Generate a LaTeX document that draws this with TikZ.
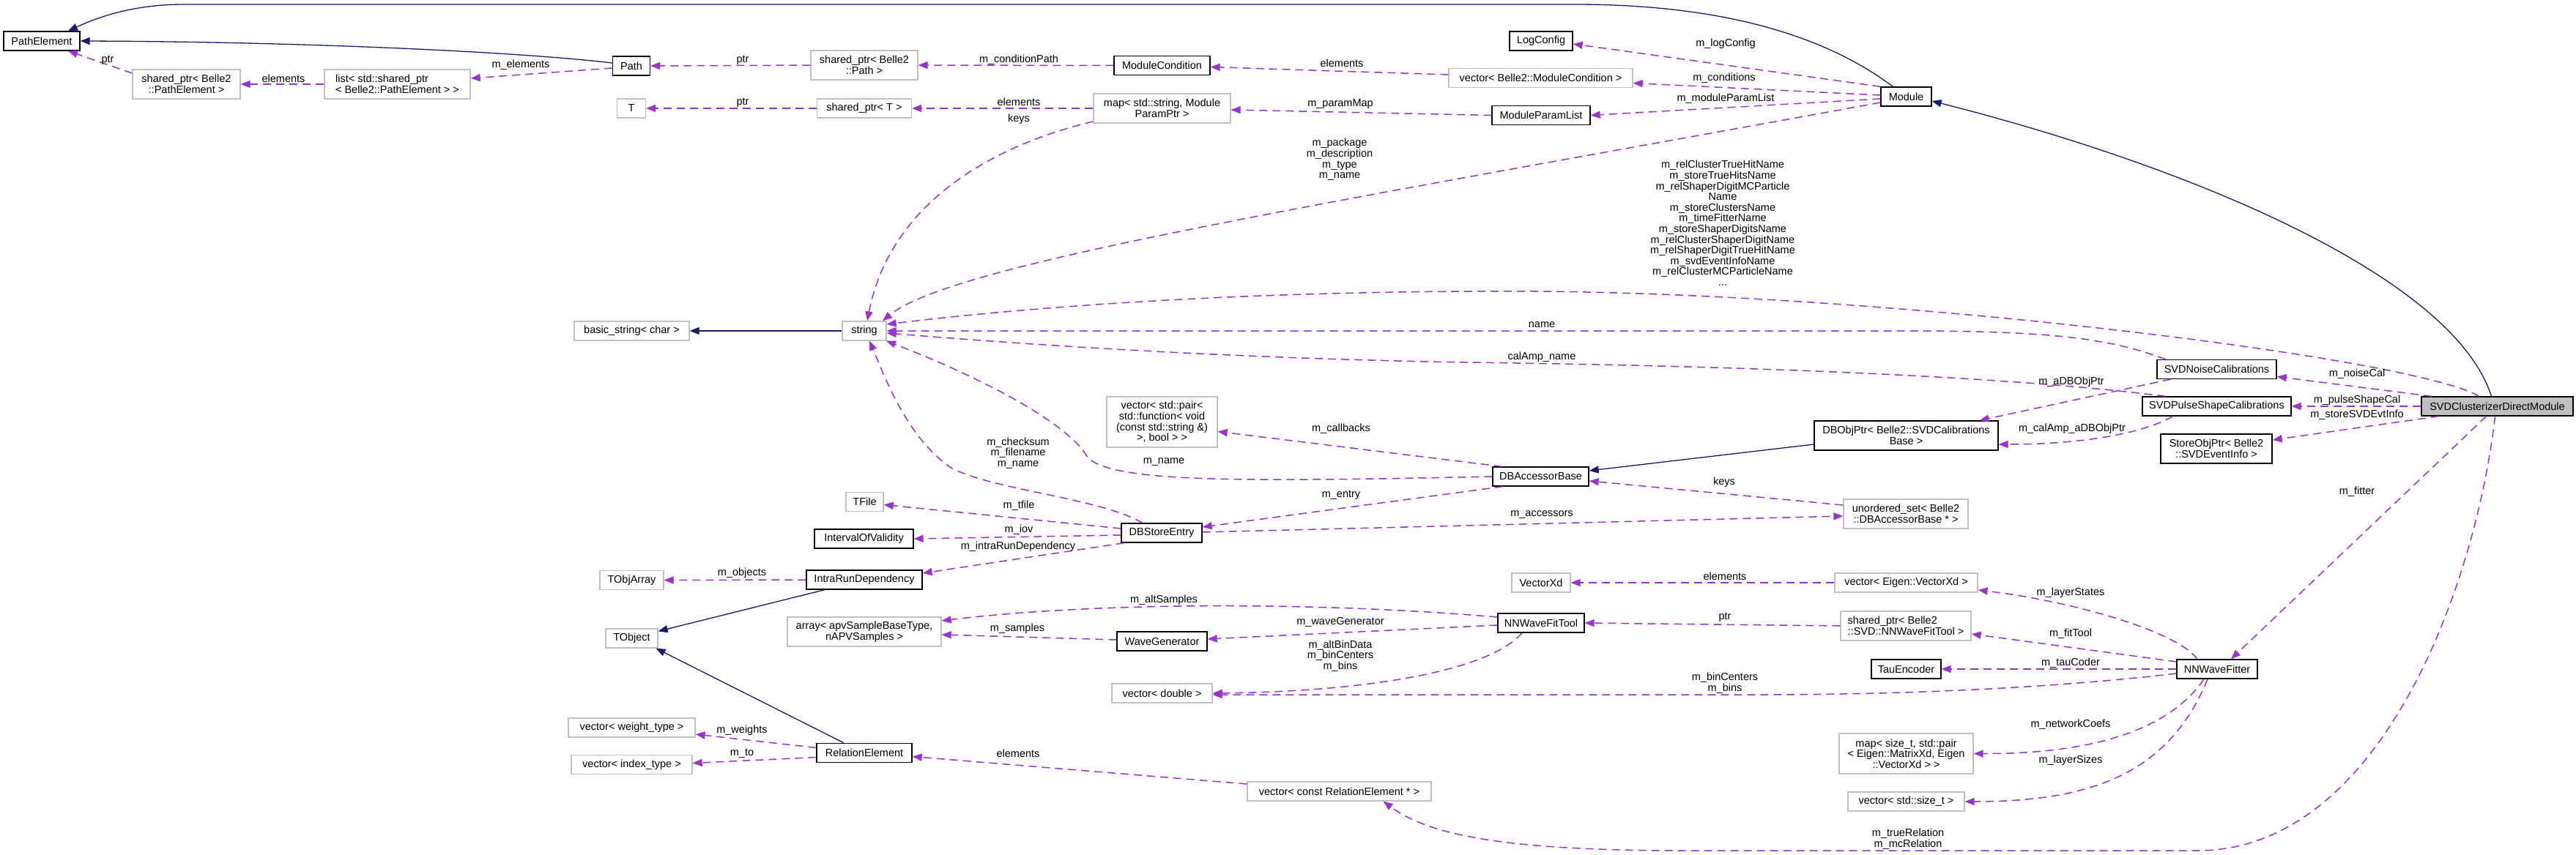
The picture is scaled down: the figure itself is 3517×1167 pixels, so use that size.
\documentclass[tikz,border=0pt]{standalone}
\usepackage{fontspec}
\setmainfont{Liberation Sans}
\usepackage{tikz}
\usetikzlibrary{arrows.meta, positioning, calc}
\definecolor{EdgeUse}{RGB}{154,50,205}
\definecolor{EdgeInh}{RGB}{25,25,112}
\definecolor{BoxGray}{RGB}{191,191,191}
\tikzset{
  box/.style={rectangle, line width=1.3pt, inner sep=2pt, fill=white, align=center,
    font=\fontsize{14.5}{14.6}\selectfont, minimum height=26pt},
  cls/.style={box, draw=black},
  ext/.style={box, draw=BoxGray},
  lbl/.style={inner sep=0pt, align=center, font=\fontsize{14.5}{14.6}\selectfont},
  use/.style={EdgeUse, line width=1.5pt, dash pattern=on 11pt off 7pt,
    -{Triangle[length=13pt,width=10pt]}},
  inh/.style={EdgeInh, line width=1.3pt, -{Triangle[length=13pt,width=10pt]}},
}
\begin{document}
\begin{tikzpicture}[x=1pt,y=-1pt]
\useasboundingbox (0,0) rectangle (3517,1167);
% classes
\node[cls, minimum width=104pt] (PathElement) at (57,56) {PathElement};
\node[ext, minimum width=147pt, minimum height=40pt] (sptrPathElement) at (254.5,115) {shared\_ptr< Belle2\\::PathElement >};
\node[ext, minimum width=199pt, minimum height=40pt, align=left] (listPathElement) at (542.5,115) {list< std::shared\_ptr\\< Belle2::PathElement > >};
\node[cls, minimum width=51pt] (Path) at (862,90) {Path};
\node[ext, minimum width=39pt] (T) at (862,148) {T};
\node[ext, minimum width=146pt, minimum height=40pt] (sptrPath) at (1180,89) {shared\_ptr< Belle2\\::Path >};
\node[ext, minimum width=129pt] (sptrT) at (1180,148) {shared\_ptr< T >};
\node[cls, minimum width=131pt] (ModuleCondition) at (1586.5,89.5) {ModuleCondition};
\node[ext, minimum width=187pt, minimum height=40pt] (paramMap) at (1586.5,148) {map< std::string, Module\\ParamPtr >};
\node[cls, minimum width=86pt] (LogConfig) at (2104,56) {LogConfig};
\node[ext, minimum width=251pt] (vecCondition) at (2103.5,106.5) {vector< Belle2::ModuleCondition >};
\node[cls, minimum width=134pt] (ModuleParamList) at (2104,157.5) {ModuleParamList};
\node[cls, minimum width=69pt] (Module) at (2602.5,132) {Module};
\node[ext, minimum width=157pt] (basicString) at (862.5,452) {basic\_string< char >};
\node[ext, minimum width=60pt] (string) at (1180,452) {string};
\node[cls, minimum width=163pt] (noiseCal) at (3026.5,504.5) {SVDNoiseCalibrations};
\node[cls, minimum width=203pt] (pulseShapeCal) at (3026.5,555) {SVDPulseShapeCalibrations};
\node[cls, fill=BoxGray, minimum width=207pt] (main) at (3409.5,555) {SVDClusterizerDirectModule};
\node[cls, minimum width=251pt, minimum height=40pt] (calDBObjPtr) at (2602.5,595) {DBObjPtr< Belle2::SVDCalibrations\\Base >};
\node[cls, minimum width=152pt, minimum height=40pt] (evtInfo) at (3026,613) {StoreObjPtr< Belle2\\::SVDEventInfo >};
\node[ext, minimum width=170pt, minimum height=40pt] (accessorSet) at (2602,702) {unordered\_set< Belle2\\::DBAccessorBase * >};
\node[ext, minimum width=151pt, minimum height=69pt] (callbacks) at (1586.5,576.5) {vector< std::pair<\\ std::function< void\\(const std::string \&)\\>, bool > >};
\node[cls, minimum width=131pt] (DBAccessorBase) at (2103.5,651) {DBAccessorBase};
\node[ext, minimum width=51pt] (TFile) at (1180.5,685.5) {TFile};
\node[cls, minimum width=110pt] (DBStoreEntry) at (1586,728) {DBStoreEntry};
\node[cls, minimum width=135pt] (IoV) at (1179.5,736) {IntervalOfValidity};
\node[cls, minimum width=158pt] (IntraRun) at (1180,792) {IntraRunDependency};
\node[ext, minimum width=87pt] (TObjArray) at (862.5,792.5) {TObjArray};
\node[ext, minimum width=80pt] (VectorXd) at (2104,796) {VectorXd};
\node[ext, minimum width=195pt] (vecVectorXd) at (2602.5,796) {vector< Eigen::VectorXd >};
\node[ext, minimum width=71pt] (TObject) at (862.5,872) {TObject};
\node[ext, minimum width=210pt, minimum height=40pt] (apvArray) at (1180,863) {array< apvSampleBaseType,\\nAPVSamples >};
\node[cls, minimum width=123pt] (WaveGenerator) at (1586.5,876) {WaveGenerator};
\node[cls, minimum width=118pt] (NNWaveFitTool) at (2104,851) {NNWaveFitTool};
\node[ext, minimum width=178pt, minimum height=40pt, align=left] (sptrFitTool) at (2602,855) {shared\_ptr< Belle2\\::SVD::NNWaveFitTool >};
\node[cls, minimum width=95pt] (TauEncoder) at (2602.5,914) {TauEncoder};
\node[cls, minimum width=110pt] (NNWaveFitter) at (3027,914) {NNWaveFitter};
\node[ext, minimum width=137pt] (vecDouble) at (1586.5,947) {vector< double >};
\node[ext, minimum width=173pt] (vecWeight) at (862.5,994) {vector< weight\_type >};
\node[ext, minimum width=165pt] (vecIndex) at (862.5,1044.5) {vector< index\_type >};
\node[cls, minimum width=130pt] (RelationElement) at (1180,1028.5) {RelationElement};
\node[ext, minimum width=251pt] (vecRelation) at (1828.5,1081) {vector< const RelationElement * >};
\node[ext, minimum width=183pt, minimum height=55pt] (netCoefs) at (2602.5,1029.5) {map< size\_t, std::pair\\< Eigen::MatrixXd, Eigen\\::VectorXd > >};
\node[ext, minimum width=159pt] (vecSize) at (2602.5,1095) {vector< std::size\_t >};
% inheritance
\draw[inh] ([xshift=-18pt]Module.north) .. controls (2480,40) and (2330,6) .. (2150,6) -- (250,6) .. controls (180,6) and (130,25) .. ([xshift=36pt]PathElement.north);
\draw[inh] ([yshift=4pt]Path.west) .. controls (700,70) and (400,57) .. (PathElement.east);
\draw[inh] (string.west) -- (basicString.east);
\draw[inh] ([xshift=-8pt]main.north) .. controls (3350,380) and (3000,230) .. ([yshift=-6pt]Module.east);
\draw[inh] ([yshift=-12pt]calDBObjPtr.west) -- ([yshift=8pt]DBAccessorBase.east);
\draw[inh] ([xshift=-54pt]IntraRun.south) -- ([yshift=-4pt]TObject.north east);
\draw[inh] ([xshift=-28pt]RelationElement.north) -- ([xshift=33pt]TObject.south);
% usage
\draw[use] ([yshift=15pt]sptrPathElement.west) -- ([xshift=36pt]PathElement.south);
\draw[use] (listPathElement.west) -- (sptrPathElement.east);
\draw[use] ([yshift=-3pt]Path.west) -- ([yshift=8pt]listPathElement.east);
\draw[use] (sptrPath.west) -- (Path.east);
\draw[use] (ModuleCondition.west) -- (sptrPath.east);
\draw[use] ([yshift=4.5pt]vecCondition.west) -- ([yshift=-2pt]ModuleCondition.east);
\draw[use] (Module.north west) -- ([yshift=-4pt]LogConfig.east);
\draw[use] ([yshift=2pt]Module.west) -- ([yshift=-7pt]vecCondition.east);
\draw[use] ([yshift=-3pt]Module.west) -- (ModuleParamList.east);
\draw[use] ([yshift=-8pt]Module.west) .. controls (1800,280) and (1300,360) .. ([xshift=25pt]string.north);
\draw[use] (ModuleParamList.west) -- ([yshift=-2pt]paramMap.east);
\draw[use] (paramMap.west) -- (sptrT.east);
\draw[use] (sptrT.west) -- (T.east);
\draw[use] ([yshift=-18pt]paramMap.west) .. controls (1350,200) and (1215,280) .. ([xshift=4pt]string.north);
\draw[use] ([xshift=-25pt]main.north) .. controls (3300,490) and (2600,402) .. (2100,398) .. controls (1700,396) and (1400,420) .. ([yshift=9pt]string.east);
\draw[use] ([xshift=-70pt]noiseCal.north) .. controls (2880,462) and (2800,452) .. (2600,452) -- (string.east);
\draw[use] ([xshift=-70pt]pulseShapeCal.north) .. controls (2750,515) and (2400,500) .. (2000,495) .. controls (1600,488) and (1300,462) .. ([yshift=-3pt]string.east);
\draw[use] ([xshift=-63pt]noiseCal.south) -- ([xshift=100pt]calDBObjPtr.north);
\draw[use] ([xshift=-60pt]pulseShapeCal.south) .. controls (2930,590) and (2850,607) .. ([yshift=-12pt]calDBObjPtr.east);
\draw[use] ([xshift=-90pt]main.north) -- ([yshift=-10pt]noiseCal.east);
\draw[use] (main.west) -- (pulseShapeCal.east);
\draw[use] ([xshift=-80pt]main.south) -- ([yshift=12pt]evtInfo.east);
\draw[use] ([xshift=-15pt]main.south) -- ([xshift=19pt]NNWaveFitter.north);
\draw[use] ([xshift=-3pt]main.south) .. controls (3380,800) and (3250,1162) .. (3000,1162) -- (2300,1162) .. controls (2050,1162) and (1950,1140) .. ([xshift=60pt]vecRelation.south);
\draw[use] ([xshift=-27pt]NNWaveFitter.north) .. controls (2970,860) and (2820,820) .. ([yshift=-10pt]vecVectorXd.east);
\draw[use] ([yshift=10pt]NNWaveFitter.west) -- ([yshift=-11pt]sptrFitTool.east);
\draw[use] (NNWaveFitter.west) -- (TauEncoder.east);
\draw[use] ([yshift=-6pt]NNWaveFitter.west) .. controls (2800,940) and (2600,949) .. (2400,949) -- ([yshift=-2pt]vecDouble.east);
\draw[use] ([xshift=-18pt]NNWaveFitter.south) .. controls (2960,1000) and (2850,1030) .. (netCoefs.east);
\draw[use] ([xshift=-13pt]NNWaveFitter.south) .. controls (2960,1060) and (2850,1095) .. (vecSize.east);
\draw[use] (vecVectorXd.west) -- (VectorXd.east);
\draw[use] (sptrFitTool.west) -- (NNWaveFitTool.east);
\draw[use] ([yshift=8pt]NNWaveFitTool.west) .. controls (1800,822) and (1500,822) .. ([yshift=15pt]apvArray.east);
\draw[use] ([yshift=-3pt]NNWaveFitTool.west) -- ([yshift=3pt]WaveGenerator.east);
\draw[use] ([yshift=2pt]WaveGenerator.west) -- ([yshift=-4pt]apvArray.east);
\draw[use] ([xshift=-26pt]NNWaveFitTool.south) .. controls (2030,920) and (1850,945) .. (vecDouble.east);
\draw[use] ([xshift=-53pt]DBAccessorBase.north) -- ([yshift=-13pt]callbacks.east);
\draw[use] (DBAccessorBase.west) .. controls (1700,658) and (1520,660) .. (1485,625) .. controls (1460,580) and (1350,520) .. ([xshift=30pt]string.south);
\draw[use] ([xshift=-26pt]DBStoreEntry.north) .. controls (1500,680) and (1360,670) .. (1300,640) .. controls (1240,600) and (1210,520) .. ([xshift=7pt]string.south);
\draw[use] ([xshift=-52pt]DBAccessorBase.south) -- ([yshift=8pt]DBStoreEntry.east);
\draw[use] ([yshift=6pt]DBStoreEntry.west) -- ([yshift=-4pt]TFile.east);
\draw[use] ([yshift=-3pt]DBStoreEntry.west) -- (IoV.east);
\draw[use] ([xshift=-51pt]DBStoreEntry.south) -- ([yshift=9pt]IntraRun.east);
\draw[use] ([yshift=1pt]DBStoreEntry.east) -- ([yshift=-3pt]accessorSet.west);
\draw[use] ([yshift=12pt]accessorSet.west) -- ([yshift=-6pt]DBAccessorBase.east);
\draw[use] (IntraRun.west) -- (TObjArray.east);
\draw[use] ([yshift=7pt]RelationElement.west) -- ([yshift=-9pt]vecWeight.east);
\draw[use] ([yshift=-6pt]RelationElement.west) -- ([yshift=2pt]vecIndex.east);
\draw[use] ([yshift=10pt]vecRelation.west) -- ([yshift=-5pt]RelationElement.east);
% edge labels
\node[lbl] (lPtrPE) at (147,82) {ptr};
\node[lbl] (lElemPE) at (387,107) {elements};
\node[lbl] (lElements) at (711,89) {m\_elements};
\node[lbl] (lPtrPath) at (1014,82) {ptr};
\node[lbl] (lPtrT) at (1014,140) {ptr};
\node[lbl] (lCondPath) at (1391,82) {m\_conditionPath};
\node[lbl] (lElemT) at (1391,139) {elements};
\node[lbl] (lKeysMap) at (1391,163) {keys};
\node[lbl] (lElemCond) at (1832,86) {elements};
\node[lbl] (lParamMap) at (1830,142) {m\_paramMap};
\node[lbl] (lLogConfig) at (2356,60) {m\_logConfig};
\node[lbl] (lConditions) at (2354,107) {m\_conditions};
\node[lbl] (lParamList) at (2356,135) {m\_moduleParamList};
\node[lbl] (lModuleStr) at (1829,218) {m\_package\\m\_description\\m\_type\\m\_name};
\node[lbl] (lMainStr) at (2352,305) {m\_relClusterTrueHitName\\m\_storeTrueHitsName\\m\_relShaperDigitMCParticle\\Name\\m\_storeClustersName\\m\_timeFitterName\\m\_storeShaperDigitsName\\m\_relClusterShaperDigitName\\m\_relShaperDigitTrueHitName\\m\_svdEventInfoName\\m\_relClusterMCParticleName\\...};
\node[lbl] (lName) at (2105,444) {name};
\node[lbl] (lCalAmpName) at (2105,488) {calAmp\_name};
\node[lbl] (lADBObjPtr) at (2828,522) {m\_aDBObjPtr};
\node[lbl] (lCalAmpPtr) at (2829,586) {m\_calAmp\_aDBObjPtr};
\node[lbl] (lNoiseCal) at (3218,511) {m\_noiseCal};
\node[lbl] (lPulseCal) at (3218,547) {m\_pulseShapeCal};
\node[lbl] (lEvtInfo) at (3218,567) {m\_storeSVDEvtInfo};
\node[lbl] (lFitter) at (3218,672) {m\_fitter};
\node[lbl] (lKeysSet) at (2354,659) {keys};
\node[lbl] (lCallbacks) at (1831,586) {m\_callbacks};
\node[lbl] (lEntryStr) at (1390,619) {m\_checksum\\m\_filename\\m\_name};
\node[lbl] (lBaseName) at (1589,631) {m\_name};
\node[lbl] (lEntry) at (1831,676) {m\_entry};
\node[lbl] (lTFile) at (1391,691) {m\_tfile};
\node[lbl] (lAccessors) at (2105,703) {m\_accessors};
\node[lbl] (lIoV) at (1391,724) {m\_iov};
\node[lbl] (lIntraRun) at (1390,747) {m\_intraRunDependency};
\node[lbl] (lObjects) at (1013,783) {m\_objects};
\node[lbl] (lElemXd) at (2355,787) {elements};
\node[lbl] (lLayerStates) at (2827,810) {m\_layerStates};
\node[lbl] (lAltSamples) at (1589,820) {m\_altSamples};
\node[lbl] (lPtrTool) at (2355,843) {ptr};
\node[lbl] (lWaveGen) at (1830,850) {m\_waveGenerator};
\node[lbl] (lSamples) at (1389,859) {m\_samples};
\node[lbl] (lFitTool) at (2827,866) {m\_fitTool};
\node[lbl] (lToolDouble) at (1830,896) {m\_altBinData\\m\_binCenters\\m\_bins};
\node[lbl] (lTauCoder) at (2827,906) {m\_tauCoder};
\node[lbl] (lFitterDouble) at (2355,933) {m\_binCenters\\m\_bins};
\node[lbl] (lNetCoefs) at (2827,990) {m\_networkCoefs};
\node[lbl] (lWeights) at (1013,998) {m\_weights};
\node[lbl] (lTo) at (1013,1029) {m\_to};
\node[lbl] (lElemRel) at (1390,1029) {elements};
\node[lbl] (lLayerSizes) at (2827,1039) {m\_layerSizes};
\node[lbl] (lRelations) at (2605,1146) {m\_trueRelation\\m\_mcRelation};
\end{tikzpicture}
\end{document}
